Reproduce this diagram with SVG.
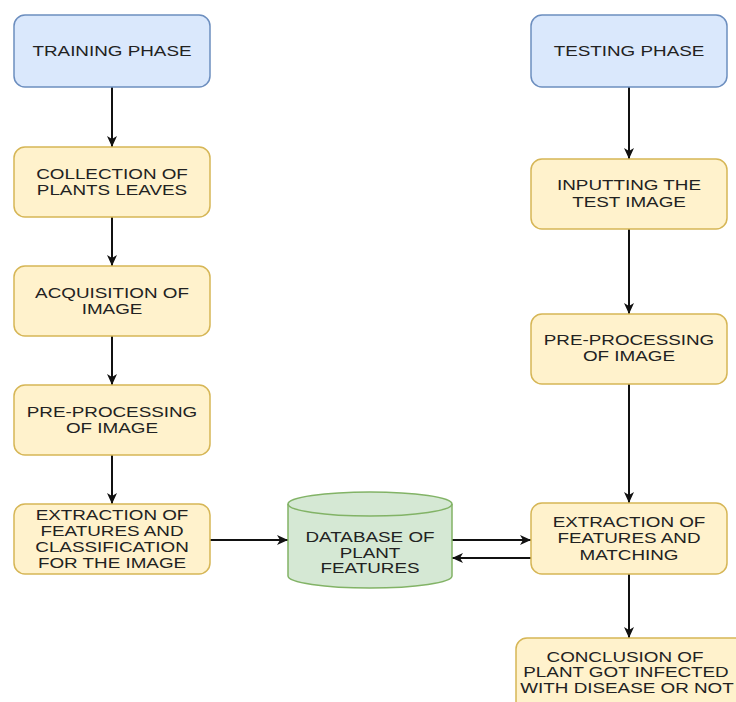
<svg xmlns="http://www.w3.org/2000/svg" width="736" height="702" viewBox="0 0 736 702">
<style>
.blue{fill:#dae8fc;stroke:#6c8ebf;stroke-width:1.5}
.yel{fill:#fff2cc;stroke:#d6b656;stroke-width:1.5}
.grn{fill:#d5e8d4;stroke:#82b366;stroke-width:1.5}
.t{font-family:"Liberation Sans",Arial,sans-serif;font-size:14.5px;fill:#222;text-anchor:middle}
.c{stroke:#111;stroke-width:2;fill:none;marker-end:url(#ah)}
</style>
<defs>
<marker id="ah" markerUnits="userSpaceOnUse" markerWidth="12" markerHeight="12" viewBox="0 0 12 12" refX="11" refY="6" orient="auto">
<path d="M0,1 L11,6 L0,11 L3,6 z" fill="#111"/>
</marker>
</defs>
<g id="connectors">
<line class="c" x1="112" y1="87" x2="112" y2="147"/>
<line class="c" x1="112" y1="217" x2="112" y2="266"/>
<line class="c" x1="112" y1="336" x2="112" y2="385"/>
<line class="c" x1="112" y1="455" x2="112" y2="504"/>
<line class="c" x1="210" y1="540" x2="288" y2="540"/>
<line class="c" x1="452" y1="540" x2="531" y2="540"/>
<line class="c" x1="531" y1="558" x2="452" y2="558"/>
<line class="c" x1="629" y1="87" x2="629" y2="159"/>
<line class="c" x1="629" y1="229" x2="629" y2="314"/>
<line class="c" x1="629" y1="384" x2="629" y2="503"/>
<line class="c" x1="629" y1="574" x2="629" y2="638"/>
</g>
<g id="training">
<rect class="blue" x="14" y="15" width="196" height="72" rx="11"/>
<text class="t" transform="translate(112 56) scale(1.3 1)">TRAINING PHASE</text>
</g>
<g id="collection">
<rect class="yel" x="14" y="147" width="196" height="70" rx="11"/>
<text class="t" transform="translate(112 179) scale(1.3 1)">COLLECTION OF</text>
<text class="t" transform="translate(112 195) scale(1.3 1)">PLANTS LEAVES</text>
</g>
<g id="acquisition">
<rect class="yel" x="14" y="266" width="196" height="70" rx="11"/>
<text class="t" transform="translate(112 298) scale(1.3 1)">ACQUISITION OF</text>
<text class="t" transform="translate(112 314) scale(1.3 1)">IMAGE</text>
</g>
<g id="preproc-left">
<rect class="yel" x="14" y="385" width="196" height="70" rx="11"/>
<text class="t" transform="translate(112 417) scale(1.3 1)">PRE-PROCESSING</text>
<text class="t" transform="translate(112 433) scale(1.3 1)">OF IMAGE</text>
</g>
<g id="extraction-left">
<rect class="yel" x="14" y="504" width="196" height="70" rx="11"/>
<text class="t" transform="translate(112 520) scale(1.3 1)">EXTRACTION OF</text>
<text class="t" transform="translate(112 536) scale(1.3 1)">FEATURES AND</text>
<text class="t" transform="translate(112 552) scale(1.3 1)">CLASSIFICATION</text>
<text class="t" transform="translate(112 568) scale(1.3 1)">FOR THE IMAGE</text>
</g>
<g id="database">
<path class="grn" d="M288,504 A82,12 0 0 1 452,504 L452,576 A82,12 0 0 1 288,576 Z"/>
<path d="M288,504 A82,12 0 0 0 452,504" fill="none" stroke="#82b366" stroke-width="1.5"/>
<text class="t" transform="translate(370 542) scale(1.3 1)">DATABASE OF</text>
<text class="t" transform="translate(370 558) scale(1.3 1)">PLANT</text>
<text class="t" transform="translate(370 573) scale(1.3 1)">FEATURES</text>
</g>
<g id="testing">
<rect class="blue" x="531" y="15" width="196" height="72" rx="11"/>
<text class="t" transform="translate(629 56) scale(1.3 1)">TESTING PHASE</text>
</g>
<g id="inputting">
<rect class="yel" x="531" y="159" width="196" height="70" rx="11"/>
<text class="t" transform="translate(629 190) scale(1.3 1)">INPUTTING THE</text>
<text class="t" transform="translate(629 207) scale(1.3 1)">TEST IMAGE</text>
</g>
<g id="preproc-right">
<rect class="yel" x="531" y="314" width="196" height="70" rx="11"/>
<text class="t" transform="translate(629 345) scale(1.3 1)">PRE-PROCESSING</text>
<text class="t" transform="translate(629 361) scale(1.3 1)">OF IMAGE</text>
</g>
<g id="extraction-right">
<rect class="yel" x="531" y="503" width="196" height="71" rx="11"/>
<text class="t" transform="translate(629 527) scale(1.3 1)">EXTRACTION OF</text>
<text class="t" transform="translate(629 543) scale(1.3 1)">FEATURES AND</text>
<text class="t" transform="translate(629 560) scale(1.3 1)">MATCHING</text>
</g>
<g id="conclusion">
<rect class="yel" x="516" y="638" width="230" height="80" rx="11"/>
<text class="t" transform="translate(625 662) scale(1.3 1)">CONCLUSION OF</text>
<text class="t" transform="translate(626 677) scale(1.3 1)">PLANT GOT INFECTED</text>
<text class="t" transform="translate(627 693) scale(1.3 1)">WITH DISEASE OR NOT</text>
</g>
</svg>
